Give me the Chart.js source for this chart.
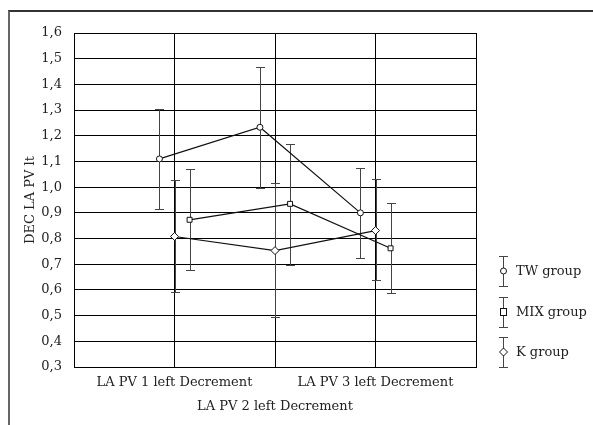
<!DOCTYPE html>
<html>
<head>
<meta charset="utf-8">
<script src="https://cdn.jsdelivr.net/npm/chart.js@4/dist/chart.umd.min.js"></script>
<style>
    html, body { margin: 0; padding: 0; background: #fff; }
    #wrap { position: relative; width: 593px; height: 425px; overflow: hidden; }
    #frame { position: absolute; left: 8px; top: 10px; width: 700px; height: 500px;
             border-top: 2px solid #333; border-left: 2px solid #666; }
    #chart { position: absolute; left: 0; top: 0; }
    .legend-item { position: absolute; left: 497px; width: 96px; height: 30px;
                   font-family: 'DejaVu Serif', serif; font-size: 13px; color: #222; }
    .legend-item svg { position: absolute; left: 0; top: 0; }
    .legend-item span { position: absolute; left: 19px; top: 0; line-height: 30px; white-space: nowrap; }
</style>
</head>
<body>
<div id="wrap">
    <div id="frame"></div>
    <canvas id="chart" width="593" height="425"></canvas>
    <div id="legend"></div>
</div>
<script>
// categories and values
const categories = ['LA PV 1 left Decrement', 'LA PV 2 left Decrement', 'LA PV 3 left Decrement'];
const seriesNames = ['TW group', 'MIX group', 'K group'];

const twMean = [1.11, 1.233, 0.90];
const twLow = [0.915, 0.996, 0.723];
const twHigh = [1.306, 1.467, 1.073];

const mixMean = [0.873, 0.935, 0.762];
const mixLow = [0.678, 0.697, 0.589];
const mixHigh = [1.07, 1.169, 0.94];

const kMean = [0.808, 0.753, 0.831];
const kLow = [0.593, 0.493, 0.638];
const kHigh = [1.027, 1.016, 1.03];

const yTicks = [0.3, 0.4, 0.5, 0.6, 0.7, 0.8, 0.9, 1.0, 1.1, 1.2, 1.3, 1.4, 1.5, 1.6];

Chart.defaults.font.family = "'DejaVu Serif', serif";
Chart.defaults.font.size = 13;
Chart.defaults.color = '#222';

// each group is shifted a little off its category, like the original
function points(mean, shift) {
    return mean.map((v, i) => ({ x: i + 1 + shift, y: v }));
}

const series = [
    { label: seriesNames[0], mean: twMean, low: twLow, high: twHigh, shift: -0.15, style: 'circle', radius: 3 },
    { label: seriesNames[1], mean: mixMean, low: mixLow, high: mixHigh, shift: 0.15, style: 'rect', radius: 3.5 },
    { label: seriesNames[2], mean: kMean, low: kLow, high: kHigh, shift: 0, style: 'rectRot', radius: 4 }
];

const errorBars = {
    id: 'errorBars',
    beforeDatasetsDraw(chart) {
        const ctx = chart.ctx;
        const xs = chart.scales.x;
        const ys = chart.scales.y;
        ctx.save();
        ctx.strokeStyle = '#444';
        ctx.lineWidth = 1;
        chart.data.datasets.forEach(ds => {
            ds.data.forEach((p, j) => {
                const px = Math.round(xs.getPixelForValue(p.x)) + 0.5;
                const top = Math.round(ys.getPixelForValue(ds.high[j])) + 0.5;
                const bot = Math.round(ys.getPixelForValue(ds.low[j])) + 0.5;
                ctx.beginPath();
                ctx.moveTo(px, top);
                ctx.lineTo(px, bot);
                ctx.moveTo(px - 4.5, top);
                ctx.lineTo(px + 4.5, top);
                ctx.moveTo(px - 4.5, bot);
                ctx.lineTo(px + 4.5, bot);
                ctx.stroke();
            });
        });
        ctx.restore();
    }
};

new Chart(document.getElementById('chart').getContext('2d'), {
    type: 'line',
    data: {
        datasets: series.map(s => ({
            label: s.label,
            data: points(s.mean, s.shift),
            low: s.low,
            high: s.high,
            borderColor: '#111',
            borderWidth: 1.2,
            backgroundColor: '#fff',
            pointStyle: s.style,
            pointRadius: s.radius,
            pointBorderWidth: 1,
            pointBorderColor: '#111',
            pointBackgroundColor: '#fff',
            tension: 0
        }))
    },
    options: {
        responsive: false,
        animation: false,
        layout: {
            padding: { top: 33, right: 117, left: 0, bottom: 0 }
        },
        scales: {
            x: {
                type: 'linear',
                min: 0,
                max: 4,
                afterFit: scale => { scale.height = 58; },
                afterBuildTicks: scale => {
                    scale.ticks = [0, 1, 2, 3, 4].map(v => ({ value: v }));
                },
                grid: { color: '#000', lineWidth: 1, drawTicks: false },
                border: { color: '#000' },
                ticks: {
                    autoSkip: false,
                    maxRotation: 0,
                    padding: 4,
                    font: { lineHeight: '24px' },
                    callback: v => {
                        if (v === 2) return ['', categories[1]];
                        if (v === 1) return categories[0];
                        if (v === 3) return categories[2];
                        return '';
                    }
                }
            },
            y: {
                min: 0.3,
                max: 1.6,
                afterFit: scale => { scale.width = 74; },
                afterBuildTicks: scale => {
                    scale.ticks = yTicks.map(v => ({ value: v }));
                },
                grid: { color: '#000', lineWidth: 1, drawTicks: false },
                border: { color: '#000' },
                ticks: {
                    padding: 12,
                    callback: v => v.toFixed(1).replace('.', ',')
                },
                title: {
                    display: true,
                    text: 'DEC LA PV lt',
                    padding: { top: 23, bottom: 0 }
                }
            }
        },
        plugins: {
            legend: { display: false },
            tooltip: { enabled: false }
        }
    },
    plugins: [errorBars]
});

// legend on the right: error bar glyph with the group's marker
const legendTops = [256, 297, 337];
const markers = {
    circle: '<circle cx="6.5" cy="15" r="3" fill="#fff" stroke="#111"/>',
    rect: '<rect x="3.5" y="11.5" width="6" height="7" fill="#fff" stroke="#111"/>',
    rectRot: '<path d="M6.5 11 L10.5 15 L6.5 19 L2.5 15 Z" fill="#fff" stroke="#111"/>'
};
const legendBox = document.getElementById('legend');
series.forEach((s, i) => {
    const item = document.createElement('div');
    item.className = 'legend-item';
    item.style.top = legendTops[i] + 'px';
    item.innerHTML =
        '<svg width="14" height="31">' +
        '<path d="M6.5 0.5 V30.5 M2 0.5 H11 M2 30.5 H11" stroke="#444" fill="none"/>' +
        markers[s.style] + '</svg>' +
        '<span>' + s.label + '</span>';
    legendBox.appendChild(item);
});
</script>
</body>
</html>
